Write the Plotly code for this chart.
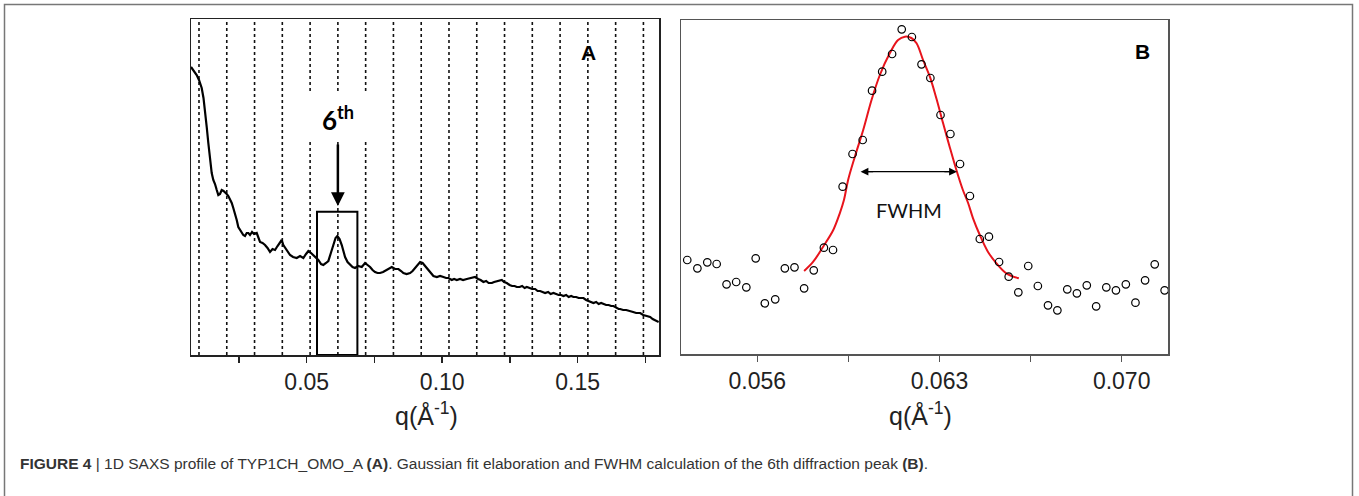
import plotly.graph_objects as go

W, H = 1359, 496

# ---------------- Panel A : 1D SAXS profile ----------------
q_a = [0.00730, 0.00804, 0.00940, 0.01025, 0.01125, 0.01191, 0.01247, 0.01310, 0.01369, 0.01431,
       0.01494, 0.01553, 0.01616, 0.01680, 0.01738, 0.01800, 0.01863, 0.01930, 0.01985, 0.02048,
       0.02107, 0.02170, 0.02233, 0.02291, 0.02354, 0.02417, 0.02476, 0.02539, 0.02602, 0.02660,
       0.02723, 0.02786, 0.02846, 0.02908, 0.02982, 0.03056, 0.03155, 0.03214, 0.03277, 0.03369,
       0.03462, 0.03554, 0.03646, 0.03739, 0.03831, 0.03923, 0.04015, 0.04078, 0.04137, 0.04237,
       0.04311, 0.04385, 0.04495, 0.04632, 0.04754, 0.04876, 0.04976, 0.05060, 0.05160, 0.05245,
       0.05344, 0.05429, 0.05529, 0.05614, 0.05713, 0.05798, 0.05880, 0.05983, 0.06064, 0.06131,
       0.06212, 0.06293, 0.06359, 0.06415, 0.06507, 0.06599, 0.06692, 0.06784, 0.06895, 0.07031,
       0.07153, 0.07245, 0.07338, 0.07430, 0.07522, 0.07614, 0.07707, 0.07818, 0.07954, 0.08039,
       0.08139, 0.08261, 0.08383, 0.08483, 0.08568, 0.08686, 0.08815, 0.08907, 0.09000, 0.09092,
       0.09184, 0.09276, 0.09368, 0.09461, 0.09553, 0.09675, 0.09801, 0.09922, 0.10045, 0.10145,
       0.10228, 0.10354, 0.10439, 0.10538, 0.10660, 0.10771, 0.10907, 0.11029, 0.11122, 0.11214,
       0.11325, 0.11417, 0.11521, 0.11621, 0.11713, 0.11831, 0.11916, 0.12027, 0.12119, 0.12199,
       0.12284, 0.12384, 0.12487, 0.12580, 0.12672, 0.12753, 0.12857, 0.12949, 0.13041, 0.13122,
       0.13226, 0.13318, 0.13429, 0.13521, 0.13613, 0.13706, 0.13798, 0.13909, 0.14001, 0.14105,
       0.14204, 0.14297, 0.14389, 0.14474, 0.14574, 0.14666, 0.14758, 0.14843, 0.14943, 0.15035,
       0.15127, 0.15212, 0.15311, 0.15404, 0.15496, 0.15581, 0.15681, 0.15773, 0.15865, 0.15950,
       0.16050, 0.16142, 0.16234, 0.16319, 0.16419, 0.16511, 0.16567, 0.16677, 0.16788, 0.16880,
       0.16936, 0.17046, 0.17157, 0.17249, 0.17305, 0.17416, 0.17526, 0.17618, 0.17674, 0.17766,
       0.17859, 0.17933, 0.17988]
i_a = [288, 285, 280, 275, 267, 257, 245, 228, 212, 195,
       182, 175, 171, 165, 160, 161, 165, 164, 163, 161,
       159, 156, 152, 147, 142, 135, 128, 125, 122, 120,
       119, 122, 122, 120, 123, 121, 122, 118, 113, 112,
       110, 107, 103, 106, 105, 109, 113, 115, 110, 106,
       103, 100, 98, 97, 99, 97, 101, 104, 102, 100,
       97, 95, 91, 90, 92, 94, 101, 110, 117, 119,
       116, 110, 104, 98, 93, 90, 88, 87, 89, 88,
       92, 90, 88, 85, 83, 82, 82, 83, 85, 87,
       88, 86, 86, 84, 82, 81, 82, 84, 87, 91,
       93, 92, 89, 85, 82, 79, 78, 79, 78, 77,
       77, 75, 76, 75, 76, 75, 76, 77, 78, 78,
       76, 75, 73, 74, 72, 72, 73, 74, 75, 75,
       73, 72, 70, 69, 69, 68, 68, 69, 67, 68,
       67, 66, 66, 64, 64, 63, 62, 63, 61, 62,
       61, 60, 60, 59, 60, 58, 59, 58, 58, 57,
       57, 57, 55, 54, 53, 52, 53, 51, 52, 51,
       50, 50, 49, 49, 47, 46, 46, 45, 45, 44,
       44, 43, 42, 42, 42, 40, 39, 38, 38, 36,
       35, 34, 33]

q1 = 0.01025                 # first-order spacing of the dotted reference lines
orders = list(range(1, 18))
a_ticks = [0.025, 0.05, 0.075, 0.10, 0.125, 0.15, 0.175]
a_ticktext = ["", "0.05", "", "0.10", "", "0.15", ""]

# ---------------- Panel B : Gaussian fit of the 6th peak ----------------
q_b = [0.05331, 0.05370, 0.05408, 0.05444, 0.05482, 0.05519, 0.05558, 0.05594, 0.05629, 0.05669,
       0.05706, 0.05743, 0.05780, 0.05817, 0.05856, 0.05891, 0.05928, 0.05966, 0.06005, 0.06041,
       0.06080, 0.06118, 0.06155, 0.06194, 0.06231, 0.06265, 0.06304, 0.06342, 0.06379, 0.06417,
       0.06455, 0.06490, 0.06529, 0.06566, 0.06603, 0.06641, 0.06678, 0.06717, 0.06753, 0.06791,
       0.06828, 0.06866, 0.06902, 0.06941, 0.06978, 0.07016, 0.07053, 0.07090, 0.07127, 0.07165]
i_b = [94.3, 86.0, 92.0, 90.3, 70.0, 72.3, 67.0, 96.0, 51.0, 55.0,
       86.0, 87.0, 66.0, 84.0, 106.6, 104.3, 167.6, 200.3, 214.3, 263.6,
       282.6, 300.3, 325.0, 317.3, 290.0, 276.3, 239.3, 220.3, 190.3, 158.3,
       115.3, 117.6, 92.3, 77.6, 62.0, 88.3, 68.3, 49.0, 44.0, 65.0,
       61.0, 69.0, 48.0, 67.0, 64.0, 70.0, 51.6, 74.0, 90.0, 64.0]

q_fit = [0.05780, 0.05815, 0.05853, 0.05892, 0.05917, 0.05933, 0.05949, 0.05975, 0.06007, 0.06039,
         0.06071, 0.06109, 0.06141, 0.06167, 0.06192, 0.06212, 0.06237, 0.06263, 0.06288, 0.06314,
         0.06339, 0.06365, 0.06390, 0.06410, 0.06429, 0.06455, 0.06486, 0.06519, 0.06557, 0.06605]
i_fit = [83.3, 92.6, 107.6, 124.3, 141.0, 154.3, 174.3, 197.6, 224.3, 254.3,
         279.3, 301.0, 314.3, 317.6, 316.3, 311.0, 294.3, 277.6, 256.0, 231.0,
         207.6, 184.3, 164.3, 151.3, 136.0, 119.3, 102.6, 91.0, 81.0, 76.0]

fwhm_left, fwhm_right, fwhm_level = 0.05997, 0.06367, 182.6
b_ticks = [0.056, 0.0595, 0.063, 0.0665, 0.070]
b_ticktext = ["0.056", "", "0.063", "", "0.070"]

# ---------------- figure ----------------
fig = go.Figure()

fig.add_trace(go.Scatter(x=q_a, y=i_a, mode="lines", xaxis="x", yaxis="y",
                         line=dict(color="black", width=2.2), hoverinfo="skip", showlegend=False))
fig.add_trace(go.Scatter(x=q_fit, y=i_fit, mode="lines", xaxis="x2", yaxis="y2",
                         line=dict(color="#e8141c", width=2, shape="spline"),
                         hoverinfo="skip", showlegend=False))
fig.add_trace(go.Scatter(x=q_b, y=i_b, mode="markers", xaxis="x2", yaxis="y2",
                         marker=dict(symbol="circle-open", size=7.5, color="black",
                                     line=dict(width=1.2, color="black")),
                         cliponaxis=False, hoverinfo="skip", showlegend=False))

def px_x(x):
    return x / W

def px_y(y):
    return 1 - y / H

tickfont = dict(family="Liberation Sans, Arial, sans-serif", size=23, color="#222")

fig.update_layout(
    width=W, height=H, margin=dict(l=0, r=0, t=0, b=0),
    paper_bgcolor="white", plot_bgcolor="white", showlegend=False,
    xaxis=dict(domain=[px_x(191), px_x(659)], range=[0.0073, 0.1800], anchor="y",
               tickmode="array", tickvals=a_ticks, ticktext=a_ticktext,
               ticks="outside", ticklen=6, tickwidth=1.5, tickcolor="#222",
               showline=True, linecolor="#222", linewidth=1.5, mirror=True,
               showgrid=False, zeroline=False, tickfont=tickfont),
    yaxis=dict(domain=[px_y(355), px_y(19)], range=[0, 336], anchor="x",
               showticklabels=False, ticks="", showline=True, linecolor="#222",
               linewidth=1.5, mirror=True, showgrid=False, zeroline=False),
    xaxis2=dict(domain=[px_x(681), px_x(1168)], range=[0.05307, 0.07178], anchor="y2",
                tickmode="array", tickvals=b_ticks, ticktext=b_ticktext,
                ticks="outside", ticklen=6, tickwidth=1.5, tickcolor="#555",
                showline=True, linecolor="#555", linewidth=1.5, mirror=True,
                showgrid=False, zeroline=False, tickfont=tickfont),
    yaxis2=dict(domain=[px_y(354.3), px_y(20)], range=[0, 334.3], anchor="x2",
                showticklabels=False, ticks="", showline=True, linecolor="#555",
                linewidth=1.5, mirror=True, showgrid=False, zeroline=False),
)

shapes = []
# dotted harmonic lines
for n in orders:
    shapes.append(dict(type="line", xref="x", yref="y", x0=n * q1, x1=n * q1, y0=0, y1=336,
                       line=dict(color="#111", width=1.6, dash="dot"), layer="below"))
# white patch behind the "6th" label
shapes.append(dict(type="rect", xref="x", yref="y", x0=5 * q1 - 0.0012, x1=7 * q1 + 0.0012,
                   y0=213, y1=263, fillcolor="white", line=dict(width=0), layer="below"))
# box around the 6th peak
shapes.append(dict(type="rect", xref="x", yref="y", x0=0.0538, x1=0.0687, y0=0, y1=143.3,
                   line=dict(color="black", width=2), fillcolor="rgba(0,0,0,0)"))
# FWHM line
shapes.append(dict(type="line", xref="x2", yref="y2", x0=fwhm_left + 0.0002, x1=fwhm_right - 0.0002,
                   y0=fwhm_level, y1=fwhm_level, line=dict(color="black", width=1.3)))
# outer frame
shapes.append(dict(type="rect", xref="paper", yref="paper", x0=px_x(4.5), x1=px_x(1352.5),
                   y0=px_y(510), y1=px_y(4.5), line=dict(color="#777", width=1.5)))
fig.update_layout(shapes=shapes)

ann = []
# "6th" label and arrow
ann.append(dict(xref="x", yref="y", x=6 * q1, y=237, text="<b>6<sup>th</sup></b>", showarrow=False,
                font=dict(family="Lato, Open Sans, sans-serif", size=26, color="black")))
ann.append(dict(xref="x", yref="y", x=6 * q1, y=149, ax=6 * q1, ay=212, axref="x", ayref="y",
                text="", showarrow=True, arrowhead=2, arrowsize=1.1, arrowwidth=2.5,
                arrowcolor="black"))
ann.append(dict(xref="x", yref="y", x=0.1539, y=303, text="<b>A</b>", showarrow=False,
                font=dict(family="Liberation Sans, Arial, sans-serif", size=21, color="black")))
ann.append(dict(xref="x2", yref="y2", x=0.0708, y=302.3, text="<b>B</b>", showarrow=False,
                font=dict(family="Liberation Sans, Arial, sans-serif", size=21, color="black")))
# FWHM arrow heads
for end, dx in ((fwhm_left, 14), (fwhm_right, -14)):
    ann.append(dict(xref="x2", yref="y2", x=end, y=fwhm_level, ax=dx, ay=0,
                    text="", showarrow=True, arrowhead=2,
                    arrowsize=1.2, arrowwidth=1.3, arrowcolor="black"))
ann.append(dict(xref="x2", yref="y2", x=0.06182, y=144, text="FWHM", showarrow=False,
                font=dict(family="Lato, Open Sans, sans-serif", size=20, color="#111")))
# axis titles
for xc in (426, 920):
    ann.append(dict(xref="paper", yref="paper", x=px_x(xc), y=px_y(414),
                    text="q(Å<sup>-1</sup>)", showarrow=False, xanchor="center", yanchor="middle",
                    font=dict(family="Liberation Sans, Arial, sans-serif", size=25, color="#222")))
# caption
ann.append(dict(xref="paper", yref="paper", x=px_x(18), y=px_y(463), xanchor="left",
                yanchor="middle", showarrow=False,
                text="<b>FIGURE 4</b> | 1D SAXS profile of TYP1CH_OMO_A <b>(A)</b>. Gaussian fit "
                     "elaboration and FWHM calculation of the 6th diffraction peak <b>(B)</b>.",
                font=dict(family="Liberation Sans Narrow, Arial Narrow, sans-serif", size=15.5,
                          color="#333")))
fig.update_layout(annotations=ann)

fig.write_html("out.html", config={"displayModeBar": False, "staticPlot": True})
